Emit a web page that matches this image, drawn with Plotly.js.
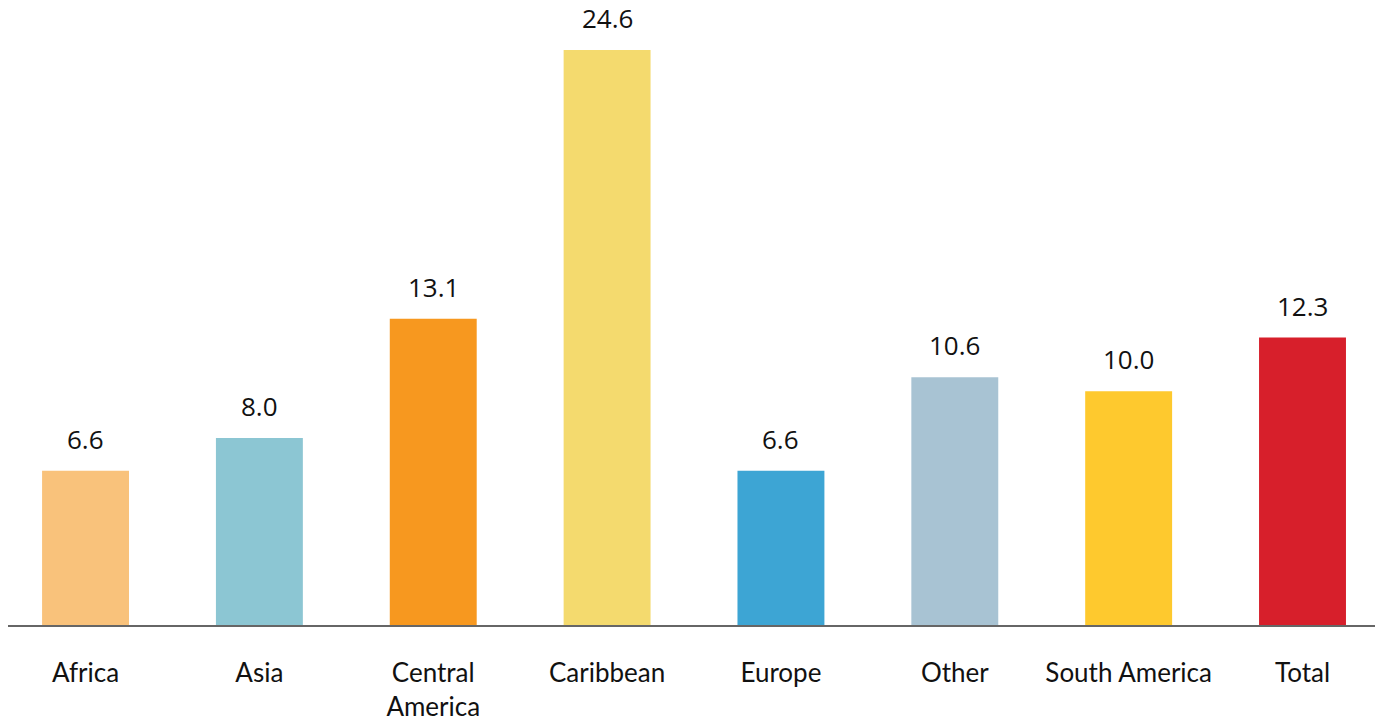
<!DOCTYPE html>
<html>
<head>
<meta charset="utf-8">
<script src="https://cdn.plot.ly/plotly-3.0.1.min.js"></script>
<style>
  html, body { margin: 0; padding: 0; background: #ffffff; }
  #chart { width: 1384px; height: 717px; }
</style>
</head>
<body>
<div id="chart"></div>
<script>
// Region groups and their values
const regions = ['Africa', 'Asia', 'Central<br>America', 'Caribbean', 'Europe', 'Other', 'South America', 'Total'];
const values = [6.6, 8.0, 13.1, 24.6, 6.6, 10.6, 10.0, 12.3];
const barColors = ['#F9C27B', '#8CC6D3', '#F7981F', '#F4DA6E', '#3DA5D4', '#A8C3D3', '#FEC92E', '#D71F2B'];
const valueLabels = values.map(v => v.toFixed(1));

const trace = {
  type: 'bar',
  x: regions,
  y: values,
  width: 0.5,
  marker: { color: barColors, line: { width: 0 } },
  hoverinfo: 'x+y',
  showlegend: false
};

// Value labels placed just above each bar
const valueAnnotations = regions.map((r, i) => ({
  x: r,
  y: values[i],
  xref: 'x',
  yref: 'y',
  text: valueLabels[i],
  showarrow: false,
  yanchor: 'bottom',
  yshift: 12,
  font: { family: '"Open Sans", "Noto Sans", sans-serif', size: 26, color: '#111111' }
}));

const layout = {
  width: 1384,
  height: 717,
  margin: { l: 8, r: 9, t: 0, b: 92, pad: 0 },
  paper_bgcolor: '#ffffff',
  plot_bgcolor: '#ffffff',
  xaxis: {
    type: 'category',
    range: [-0.446, 7.417],
    showgrid: false,
    zeroline: false,
    showline: true,
    linecolor: '#666666',
    linewidth: 1.5,
    ticks: '',
    ticklabelstandoff: 24,
    tickfont: { family: 'Lato, sans-serif', size: 26, color: '#111111' },
    fixedrange: true
  },
  yaxis: {
    range: [0, 26.74],
    visible: false,
    showgrid: false,
    zeroline: false,
    fixedrange: true
  },
  annotations: valueAnnotations,
  bargap: 0.5
};

Plotly.newPlot('chart', [trace], layout, { displayModeBar: false, staticPlot: true });
</script>
</body>
</html>
